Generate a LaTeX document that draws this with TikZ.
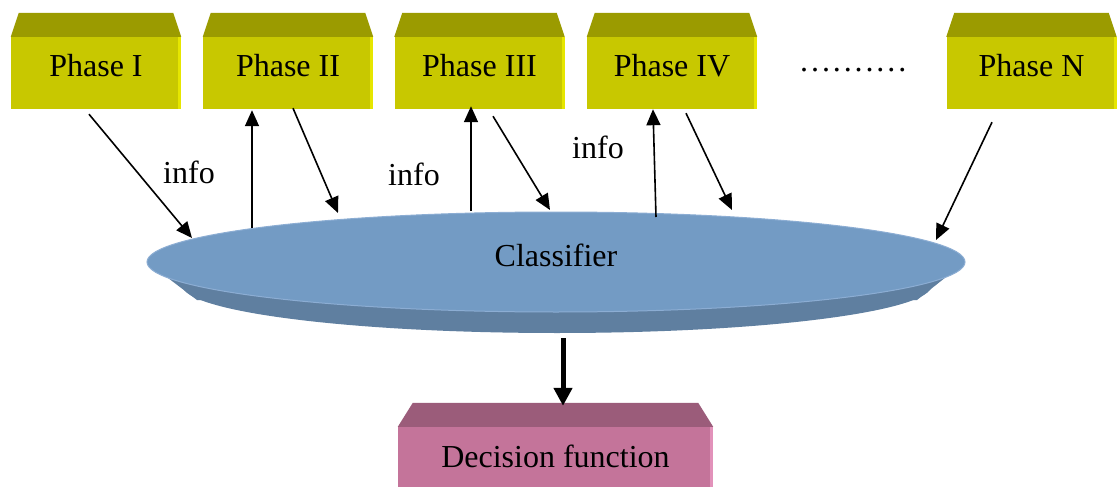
\documentclass[tikz,border=0pt]{standalone}
\usepackage{fontspec}
\setmainfont{Liberation Serif}
\usetikzlibrary{arrows.meta,calc,shapes.geometric}
\definecolor{phfront}{HTML}{C8C800}
\definecolor{phtop}{HTML}{9B9B00}
\definecolor{phedge}{HTML}{E6E600}
\definecolor{dcfront}{HTML}{C4749A}
\definecolor{dctop}{HTML}{9B5C7A}
\definecolor{dcedge}{HTML}{E292BA}
\definecolor{clstop}{HTML}{739BC4}
\definecolor{clsside}{HTML}{5F7FA0}
\definecolor{clsedge}{HTML}{8CADD3}
\newcommand\dotsp{\hspace{2.9pt}}
\begin{document}
\begin{tikzpicture}[x=1pt,y=-1pt,
  every node/.style={font=\fontsize{32}{38}\selectfont},
  phasebox/.style={fill=phfront, minimum width=170pt, minimum height=72pt, inner sep=0pt, text height=24pt, text depth=16pt},
  decbox/.style={fill=dcfront, minimum width=315pt, minimum height=86pt, inner sep=0pt, text height=22pt, text depth=28pt},
  clsnode/.style={ellipse, fill=clstop, draw=clsedge, line width=1pt, minimum width=818pt, minimum height=100pt, inner sep=0pt, text height=24pt, text depth=16pt},
  lbl/.style={anchor=base west, inner sep=0pt},
  flow/.style={-{Triangle[length=16pt,width=14pt]}, line width=1.6pt},
  bigflow/.style={-{Triangle[length=18pt,width=18pt]}, line width=5pt},
]
\clip (0,0) rectangle (1117,487);
\fill[white] (0,0) rectangle (1117,487);

% phases
\node[phasebox] (p1) at (96,73) {Phase I};
\node[phasebox] (p2) at (288,73) {Phase II};
\node[phasebox] (p3) at (479.5,73) {Phase III};
\node[phasebox] (p4) at (672,73) {Phase IV};
\node[phasebox] (pn) at (1031.5,73) {Phase N};
\foreach \p in {p1,p2,p3,p4,pn}{
  \fill[phtop] (\p.north west) -- ($(\p.north west)+(8,-24)$) -- ($(\p.north east)+(-8,-24)$) -- (\p.north east) -- cycle;
  \fill[phedge] ($(\p.north east)+(-3,0)$) rectangle (\p.south east);
}
\node[lbl] (dots) at (800,72) {.\dotsp.\dotsp.\dotsp.\dotsp.\dotsp.\dotsp.\dotsp.\dotsp.\dotsp.};

% classifier
\coordinate (clsc) at (556,262);
\fill[clsside] ($(clsc)+(-409,0)$) -- ($(clsc)+(-359,38)$) -- ($(clsc)+(361,38)$) -- ($(clsc)+(409,0)$) -- cycle;
\fill[clsside] ($(clsc)+(1,23)$) ellipse [x radius=375, y radius=48];
\node[clsnode] (cls) at (clsc) {Classifier};

% decision
\node[decbox] (dec) at (555.5,470) {Decision function};
\fill[dctop] (dec.north west) -- ($(dec.north west)+(15,-24)$) -- ($(dec.north east)+(-15,-24)$) -- (dec.north east) -- cycle;
\fill[dcedge] ($(dec.north east)+(-3,0)$) rectangle (dec.south east);

% labels
\node[lbl] (i1) at (163,183) {info};
\node[lbl] (i2) at (388,185) {info};
\node[lbl] (i3) at (572,158) {info};

% connectors
\draw[flow] ($(p1.south)+(-7,5)$) -- ($(cls.center)+(-364,-24)$);
\draw[flow] ($(cls.center)+(-304,-34)$) -- ($(p2.south)+(-36,1)$);
\draw[flow] ($(p2.south)+(5,-1)$) -- ($(cls.center)+(-218,-49)$);
\draw[flow] ($(cls.center)+(-85,-51)$) -- ($(p3.south)+(-8.5,-3)$);
\draw[flow] ($(p3.south)+(13.5,7)$) -- ($(cls.center)+(-6,-52)$);
\draw[flow] ($(cls.center)+(100,-45)$) -- ($(p4.south)+(-19,0)$);
\draw[flow] ($(p4.south)+(14,4)$) -- ($(cls.center)+(176,-52)$);
\draw[flow] ($(pn.south)+(-39.5,13)$) -- ($(cls.center)+(380,-22)$);
\draw[bigflow] ($(cls.center)+(7,76)$) -- ($(dec.north)+(7.5,-21)$);
\end{tikzpicture}
\end{document}
